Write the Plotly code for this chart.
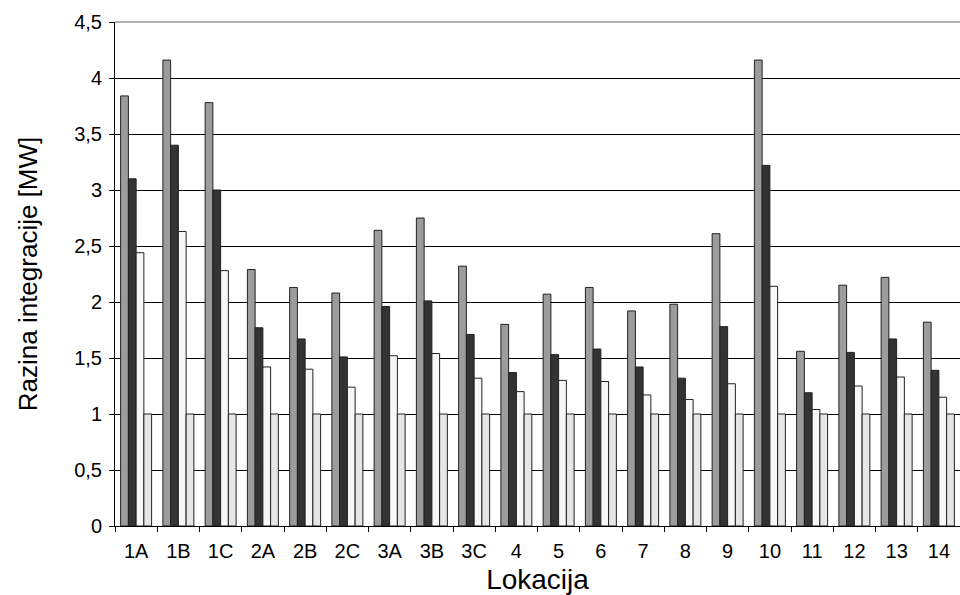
import plotly.graph_objects as go

categories = ["1A", "1B", "1C", "2A", "2B", "2C", "3A", "3B", "3C", "4", "5",
              "6", "7", "8", "9", "10", "11", "12", "13", "14"]
series_gray = [3.84, 4.16, 3.78, 2.29, 2.13, 2.08, 2.64, 2.75, 2.32, 1.80, 2.07,
               2.13, 1.92, 1.98, 2.61, 4.16, 1.56, 2.15, 2.22, 1.82]
series_black = [3.10, 3.40, 3.00, 1.77, 1.67, 1.51, 1.96, 2.01, 1.71, 1.37, 1.53,
                1.58, 1.42, 1.32, 1.78, 3.22, 1.19, 1.55, 1.67, 1.39]
series_white = [2.44, 2.63, 2.28, 1.42, 1.40, 1.24, 1.52, 1.54, 1.32, 1.20, 1.30,
                1.29, 1.17, 1.13, 1.27, 2.14, 1.04, 1.25, 1.33, 1.15]
series_light = [1.0] * 20
y_ticks = [0, 0.5, 1, 1.5, 2, 2.5, 3, 3.5, 4, 4.5]

fig = go.Figure()
for vals, col in [(series_gray, "#9c9c9c"), (series_black, "#333333"),
                  (series_white, "#f7f7f7"), (series_light, "#e6e6e6")]:
    fig.add_trace(go.Bar(x=categories, y=vals,
                         marker=dict(color=col, line=dict(color="#222222", width=1))))

font = "Liberation Sans, Arial, sans-serif"
fig.update_layout(
    width=960, height=595,
    margin=dict(l=115, r=0, t=22, b=69),
    plot_bgcolor="white", paper_bgcolor="white",
    barmode="group", bargap=0.267, bargroupgap=0,
    showlegend=False,
    separators=",.",
    font=dict(family=font, color="black", size=20),
    xaxis=dict(
        automargin=False,
        showline=True, linecolor="black", linewidth=1,
        ticks="outside", ticklen=5, tickcolor="black", tickson="boundaries",
        showgrid=False, tickfont=dict(size=20), ticklabelstandoff=7,
        title=dict(text="Lokacija", font=dict(size=28), standoff=8),
    ),
    yaxis=dict(
        automargin=False,
        range=[0, 4.5], tickvals=y_ticks,
        showline=True, linecolor="black", linewidth=1,
        ticks="outside", ticklen=5, tickcolor="black",
        showgrid=True, gridcolor="black", gridwidth=1,
        zeroline=False, tickfont=dict(size=20), ticklabelstandoff=3,
        title=dict(text="Razina integracije [MW]", font=dict(size=26), standoff=29),
    ),
    shapes=[dict(type="line", xref="paper", yref="y domain", x0=0, x1=1, y0=1, y1=1,
                 line=dict(color="#999999", width=1.5))],
)
fig.write_html("out.html", config={"displayModeBar": False},
               post_script="document.body.style.margin='0';")
